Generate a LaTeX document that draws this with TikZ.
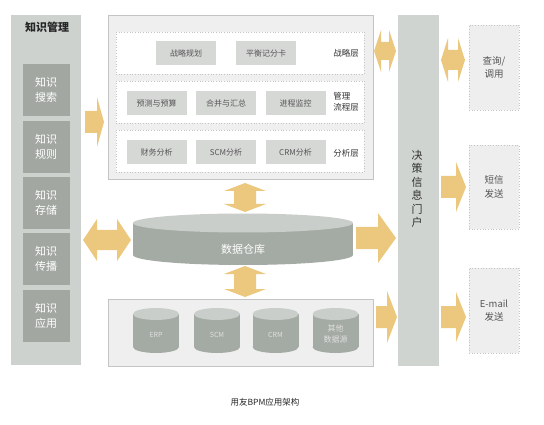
\documentclass[tikz,border=0pt]{standalone}
\usepackage{fontspec}
\setmainfont{Noto Sans CJK SC}
\definecolor{gold}{HTML}{EBC87E}
\definecolor{panelL}{HTML}{CED2CE}
\definecolor{boxL}{HTML}{A2A7A2}
\definecolor{topbg}{HTML}{EFEFEF}
\definecolor{brd}{HTML}{C4C4C4}
\definecolor{sbox}{HTML}{D6D8D6}
\definecolor{portal}{HTML}{CFD4D0}
\definecolor{cylbody}{HTML}{A4AAA4}
\definecolor{cyltop}{HTML}{CACECA}
\definecolor{rbox}{HTML}{EEEEEE}
\definecolor{txt}{HTML}{555555}
\newcommand\harrowR[6]{\fill[gold] (#1,#3-#4) -- (#2-#6,#3-#4) -- (#2-#6,#3-#5) -- (#2,#3) -- (#2-#6,#3+#5) -- (#2-#6,#3+#4) -- (#1,#3+#4) -- cycle;}
\newcommand\harrowD[6]{\fill[gold] (#1,#3) -- (#1+#6,#3-#5) -- (#1+#6,#3-#4) -- (#2-#6,#3-#4) -- (#2-#6,#3-#5) -- (#2,#3) -- (#2-#6,#3+#5) -- (#2-#6,#3+#4) -- (#1+#6,#3+#4) -- (#1+#6,#3+#5) -- cycle;}
\newcommand\varrowD[6]{\fill[gold] (#3,#1) -- (#3+#5,#1+#6) -- (#3+#4,#1+#6) -- (#3+#4,#2-#6) -- (#3+#5,#2-#6) -- (#3,#2) -- (#3-#5,#2-#6) -- (#3-#4,#2-#6) -- (#3-#4,#1+#6) -- (#3-#5,#1+#6) -- cycle;}
\newcommand\smallcyl[3]{% xc, ytop, ybottom
\fill[cylbody] (#1,#3) ellipse [x radius=23, y radius=6];
\fill[cylbody] (#1-23,#2) rectangle (#1+23,#3);
\fill[cyltop] (#1,#2) ellipse [x radius=23, y radius=6];}
\tikzset{
  kbox/.style={rectangle, fill=boxL, minimum width=47, minimum height=52, inner sep=0, text=white, font=\fontsize{11}{15}\selectfont, align=center},
  sb/.style={rectangle, fill=sbox, minimum width=60, minimum height=24, inner sep=0, text=txt, font=\fontsize{8}{10}\selectfont},
  layer/.style={rectangle, fill=white, draw=brd, dotted, line width=0.7pt, minimum width=248, minimum height=42, inner sep=0},
  llabel/.style={text=black!80, font=\fontsize{8.5}{11}\selectfont, align=left},
  rbx/.style={rectangle, fill=rbox, draw=brd, dotted, line width=0.7pt, minimum width=50, inner sep=0},
  rtext/.style={text=txt, font=\fontsize{9.5}{13.5}\selectfont, align=center},
  ctext/.style={text=white!88!black, font=\fontsize{7}{9}\selectfont, align=center}
}
\begin{document}
\begin{tikzpicture}[x=1pt,y=-1pt]
\useasboundingbox (0,0) rectangle (544,425);
% left panel
\node[rectangle, fill=panelL, minimum width=70, minimum height=350, inner sep=0] (km) at (46,190) {};
\node[font=\bfseries\fontsize{11}{13}\selectfont, text=black!85] (kmt) at (47,27) {知识管理};
\node[kbox] (k1) at (46,90) {知识\\搜索};
\node[kbox] (k2) at (46,147) {知识\\规则};
\node[kbox] (k3) at (46,203) {知识\\存储};
\node[kbox] (k4) at (46,259) {知识\\传播};
\node[kbox] (k5) at (46,315.5) {知识\\应用};
% top panel
\node[rectangle, fill=topbg, draw=brd, line width=0.8pt, minimum width=265, minimum height=164, inner sep=0] (top) at (240.5,97) {};
\node[layer] (L1) at (240,53) {};
\node[layer] (L2) at (240,102) {};
\node[layer] (L3) at (240,151) {};
\node[sb] (s1) at (186,53) {战略规划};
\node[sb] (s2) at (266,53) {平衡记分卡};
\node[sb] (s3) at (156.5,103.5) {预测与预算};
\node[sb] (s4) at (226,103.5) {合并与汇总};
\node[sb] (s5) at (295.5,103.5) {进程监控};
\node[sb] (s6) at (156.5,152) {财务分析};
\node[sb] (s7) at (226,152) {SCM分析};
\node[sb] (s8) at (295.5,152) {CRM分析};
\node[llabel] (l1) at (346,53) {战略层};
\node[llabel] (l2) at (346,102) {管理\\流程层};
\node[llabel] (l3) at (346,153) {分析层};
% data warehouse
\fill[cylbody] (243,255) ellipse [x radius=110, y radius=10];
\fill[cylbody] (133,223) rectangle (353,255);
\fill[cyltop] (243,223) ellipse [x radius=110, y radius=9.5];
\node[text=white, font=\fontsize{11}{13}\selectfont] (dw) at (243,249) {数据仓库};
% bottom panel
\node[rectangle, fill=topbg, draw=brd, line width=0.8pt, minimum width=265, minimum height=67, inner sep=0] (bot) at (240.5,332.5) {};
\smallcyl{156}{314}{347}
\smallcyl{217}{314}{347}
\smallcyl{275.5}{314}{347}
\smallcyl{335.5}{314}{347}
\node[ctext] (c1) at (156,335) {ERP};
\node[ctext] (c2) at (217,335) {SCM};
\node[ctext] (c3) at (275.5,335) {CRM};
\node[ctext, font=\fontsize{8}{10.5}\selectfont] (c4) at (335.5,334) {其他\\数据源};
% portal
\node[rectangle, fill=portal, minimum width=41, minimum height=351, inner sep=0] (portal) at (418.5,190.5) {};
\node[text=black!80, font=\fontsize{11}{13.5}\selectfont, align=center] (pt) at (417,189) {决\\策\\信\\息\\门\\户};
% right boxes
\node[rbx, minimum height=85] (r1) at (494,67.5) {};
\node[rbx, minimum height=84] (r2) at (494,187) {};
\node[rbx, minimum height=85] (r3) at (494,310.5) {};
\node[rtext] at (r1) {查询/\\调用};
\node[rtext] at (r2) {短信\\发送};
\node[rtext] at (r3) {E-mail\\发送};
% arrows
\harrowR{85}{104}{122}{11}{25}{7}
\harrowD{374}{396}{51}{9}{21}{7}
\harrowD{441}{465}{60}{10}{22}{7}
\harrowD{83}{131}{240}{10}{21}{14}
\harrowR{356}{396}{238}{11}{25}{18}
\harrowR{376}{397}{317}{11}{26}{10}
\harrowR{441}{466}{187}{11}{25}{10}
\harrowR{441}{466}{317}{11}{25}{10}
\varrowD{183}{212}{245}{11}{21}{8}
\varrowD{266}{297}{245}{11}{21}{8}
% caption
\node[text=black!85, font=\fontsize{8.5}{10}\selectfont] (cap) at (265,402) {用友BPM应用架构};
\end{tikzpicture}
\end{document}
